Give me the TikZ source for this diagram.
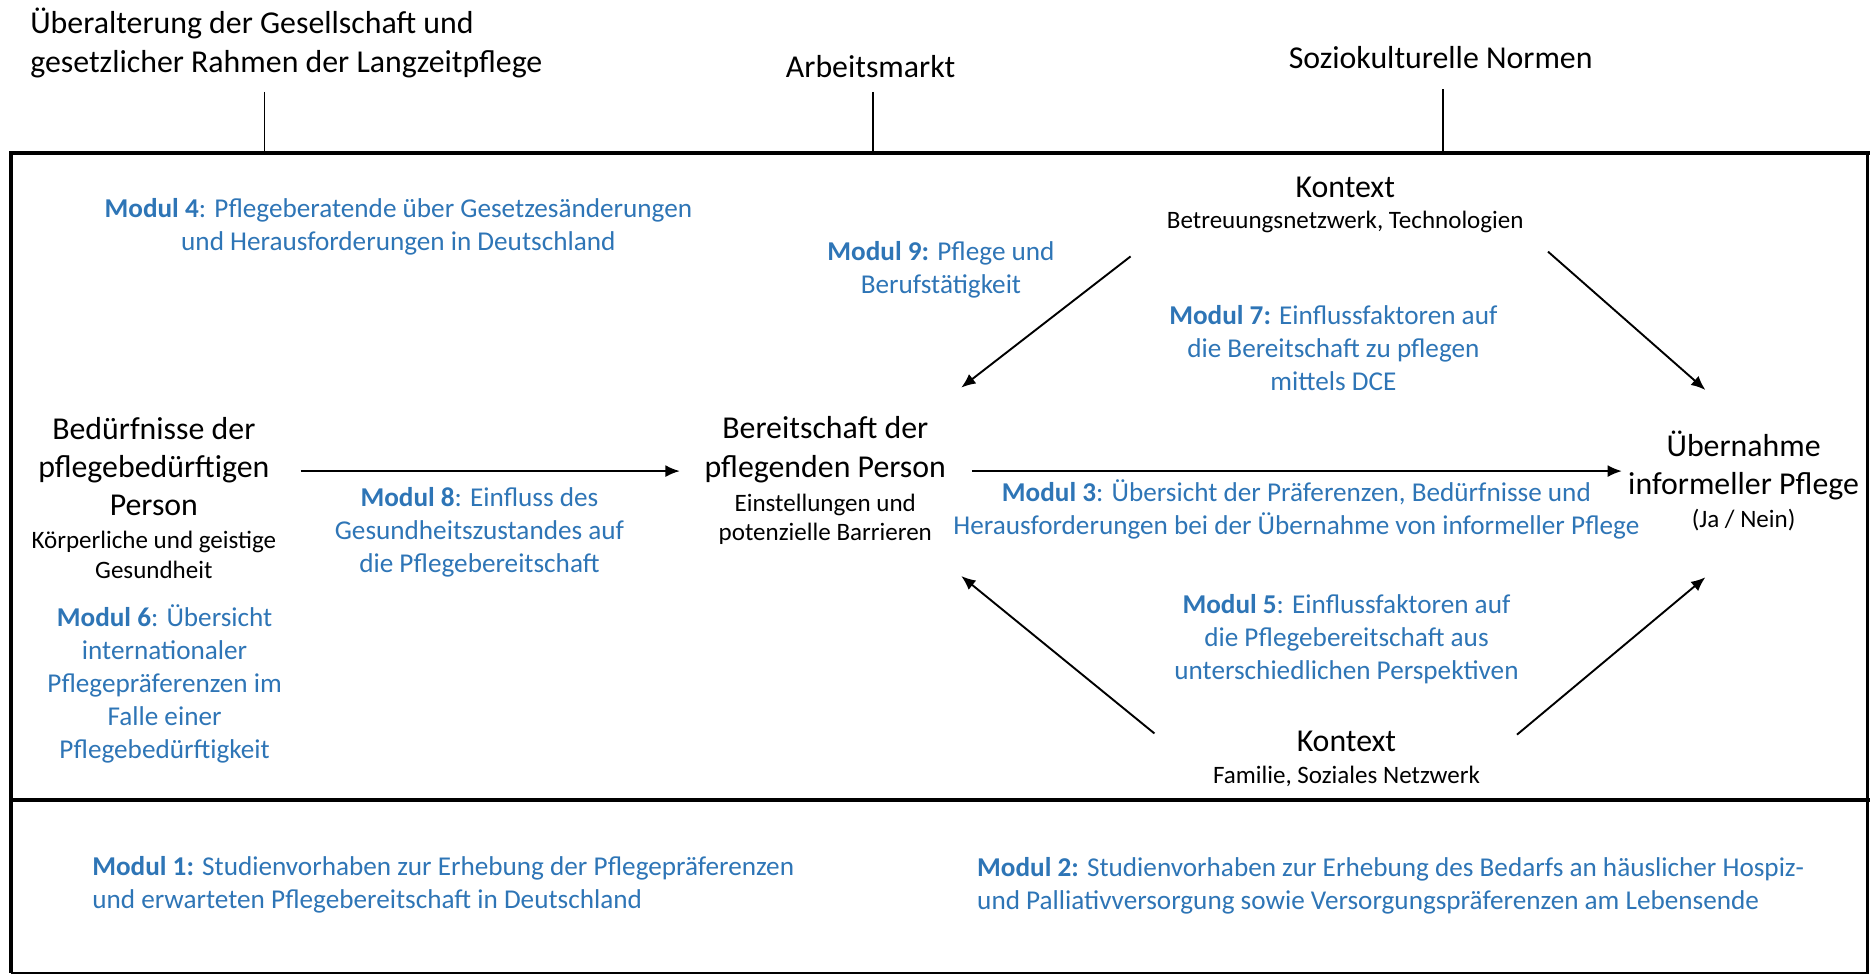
\documentclass[tikz,border=0pt]{standalone}
\usepackage{fontspec}
\setmainfont{Carlito}
\usetikzlibrary{arrows.meta}
\definecolor{modblue}{RGB}{46,117,182}
\newcommand\fbig{\fontsize{13.35}{16}\selectfont}
\newcommand\fblue{\fontsize{11.4}{13.8}\selectfont}
\newcommand\fsmall{\fontsize{10.5}{12.5}\selectfont}
\begin{document}
\begin{tikzpicture}[x=0.5pt,y=-0.5pt,
  big/.style={font=\fbig, align=center, inner sep=0pt},
  blue/.style={font=\fblue, text=modblue, align=center, inner sep=0pt},
  small/.style={font=\fsmall, align=center, inner sep=0pt},
  arr/.style={-{Latex[length=6pt,width=5pt]}, line width=0.8pt},
  tick/.style={line width=0.6pt},
  frame/.style={line width=1pt},
  heavy/.style={line width=1.8pt}]
\useasboundingbox (0,0) rectangle (1568,818);
% top labels
\node[big, align=left, anchor=west] (aging) at (25,36) {Überalterung der Gesellschaft und\\gesetzlicher Rahmen der Langzeitpflege};
\node[big] (labor) at (730,56) {Arbeitsmarkt};
\node[big] (norms) at (1208,48) {Soziokulturelle Normen};
\coordinate (agingT) at (222,77); \coordinate (agingB) at (222,128);
\coordinate (laborT) at (732,77); \coordinate (laborB) at (732,128);
\coordinate (normsT) at (1210,75); \coordinate (normsB) at (1210,128);
\draw[tick] (agingT) -- (agingB);
\draw[tick] (laborT) -- (laborB);
\draw[tick] (normsT) -- (normsB);
% frame
\coordinate (fTL) at (9,128); \coordinate (fTR) at (1566,128);
\coordinate (fML) at (9,671); \coordinate (fMR) at (1566,671);
\coordinate (fBL) at (9,816); \coordinate (fBR) at (1566,816);
\draw[frame] (fTR) -- (fBR) -- (fBL);
\draw[line width=1.5pt] (fTL) -- (fBL);
\draw[heavy] ([xshift=-0.7pt]fTL) -- ([xshift=2pt]fTR);
\draw[heavy] (fML) -- ([xshift=2pt]fMR);
% middle texts
\node[blue] (m4) at (334,190) {\textbf{Modul 4}: Pflegeberatende über Gesetzesänderungen\\und Herausforderungen in Deutschland};
\node[big] (ktop) at (1128,157) {Kontext};
\node[small] (ktopsub) at (1128,186) {Betreuungsnetzwerk, Technologien};
\node[blue] (m9) at (789,226) {\textbf{Modul 9:} Pflege und\\Berufstätigkeit};
\node[blue] (m7) at (1118,292) {\textbf{Modul 7:} Einflussfaktoren auf\\die Bereitschaft zu pflegen\\mittels DCE};
\node[big] (need) at (129,391) {Bedürfnisse der\\pflegebedürftigen\\Person};
\node[small] (needsub) at (129,465.5) {Körperliche und geistige\\Gesundheit};
\node[blue] (m8) at (402,446) {\textbf{Modul 8}: Einfluss des\\Gesundheitszustandes auf\\die Pflegebereitschaft};
\node[big] (will) at (692,377) {Bereitschaft der\\pflegenden Person};
\node[small] (willsub) at (692,435.5) {Einstellungen und\\potenzielle Barrieren};
\node[blue] (m3) at (1087,427) {\textbf{Modul 3}: Übersicht der Präferenzen, Bedürfnisse und\\Herausforderungen bei der Übernahme von informeller Pflege};
\node[big] (take) at (1462,390) {Übernahme\\informeller Pflege};
\node[small] (takesub) at (1462,436) {(Ja / Nein)};
\node[blue] (m6) at (138,573.5) {\textbf{Modul 6}: Übersicht\\internationaler\\Pflegepräferenzen im\\Falle einer\\Pflegebedürftigkeit};
\node[blue] (m5) at (1129,536) {\textbf{Modul 5}: Einflussfaktoren auf\\die Pflegebereitschaft aus\\unterschiedlichen Perspektiven};
\node[big] (kbot) at (1129,622) {Kontext};
\node[small] (kbotsub) at (1129,651) {Familie, Soziales Netzwerk};
% arrows
\coordinate (a1s) at (252,395); \coordinate (a1e) at (570,395);
\coordinate (a2s) at (815,395); \coordinate (a2e) at (1360,395);
\coordinate (a3s) at (948,215); \coordinate (a3e) at (806,325);
\coordinate (a4s) at (1298,211); \coordinate (a4e) at (1430,327);
\coordinate (a5s) at (968,615); \coordinate (a5e) at (806,483);
\coordinate (a6s) at (1272,616); \coordinate (a6e) at (1430,484);
\draw[arr] (a1s) -- (a1e);
\draw[arr] (a2s) -- (a2e);
\draw[arr] (a3s) -- (a3e);
\draw[arr] (a4s) -- (a4e);
\draw[arr] (a5s) -- (a5e);
\draw[arr] (a6s) -- (a6e);
% bottom
\node[blue, align=left, anchor=west] (m1) at (77,742) {\textbf{Modul 1:} Studienvorhaben zur Erhebung der Pflegepräferenzen\\und erwarteten Pflegebereitschaft in Deutschland};
\node[blue, align=left, anchor=west] (m2) at (819,743) {\textbf{Modul 2:} Studienvorhaben zur Erhebung des Bedarfs an häuslicher Hospiz-\\und Palliativversorgung sowie Versorgungspräferenzen am Lebensende};
\end{tikzpicture}
\end{document}
